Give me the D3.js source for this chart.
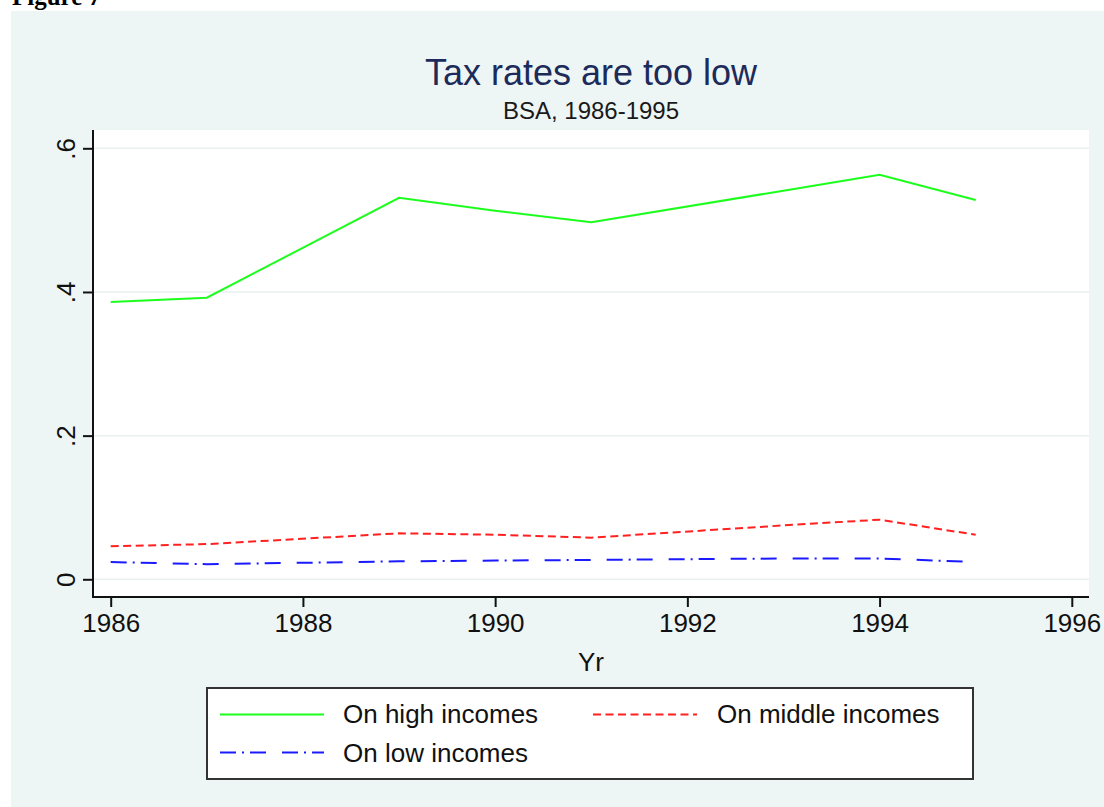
<!DOCTYPE html>
<html>
<head>
<meta charset="utf-8">
<script src="https://cdn.jsdelivr.net/npm/d3@7"></script>
<style>
  html, body { margin: 0; padding: 0; background: #ffffff; }
  svg { display: block; }
  text { font-family: "Liberation Sans", Arial, Helvetica, sans-serif; }
</style>
</head>
<body>
<svg id="chart" width="1104" height="807"></svg>
<script>
// ---- data ----
const years = [1986, 1987, 1989, 1990, 1991, 1993, 1994, 1995];
const highIncomes   = [0.386, 0.392, 0.531, 0.513, 0.497, 0.541, 0.563, 0.528];
const middleIncomes = [0.046, 0.049, 0.064, 0.062, 0.058, 0.075, 0.083, 0.062];
const lowIncomes    = [0.024, 0.021, 0.025, 0.026, 0.027, 0.029, 0.029, 0.024];
const seriesNames = ["On high incomes", "On middle incomes", "On low incomes"];
const yTickValues = [0, 0.2, 0.4, 0.6];
const yTickLabels = ["0", ".2", ".4", ".6"];
const xTickValues = [1986, 1988, 1990, 1992, 1994, 1996];
const titleText = "Tax rates are too low";
const subtitleText = "BSA, 1986-1995";
const xAxisTitle = "Yr";
const figureLabel = "Figure 7";

// ---- layout ----
const svg = d3.select("#chart");
const plot = { left: 93, right: 1089, top: 130, bottom: 597 };

const x = d3.scaleLinear().domain([1986, 1996]).range([110.7, 1071.8]);
const y = d3.scaleLinear().domain([0, 0.6]).range([579.3, 148.3]);

// figure caption (top cut off, as in the source document)
svg.append("text")
  .attr("x", 12).attr("y", 5)
  .style("font-family", "'Liberation Serif', 'Times New Roman', serif")
  .style("font-weight", "bold")
  .style("font-size", "25px")
  .attr("fill", "#000")
  .text(figureLabel);

// outer panel
svg.append("rect")
  .attr("x", 11).attr("y", 11).attr("width", 1093).attr("height", 796)
  .attr("fill", "#eef6f5");

// plot region
svg.append("rect")
  .attr("x", plot.left).attr("y", plot.top)
  .attr("width", plot.right - plot.left).attr("height", plot.bottom - plot.top)
  .attr("fill", "#ffffff");

// gridlines
svg.append("g").selectAll("line").data(yTickValues).join("line")
  .attr("x1", plot.left).attr("x2", plot.right)
  .attr("y1", d => y(d)).attr("y2", d => y(d))
  .attr("stroke", "#e9f1f1").attr("stroke-width", 1.5);

// titles
svg.append("text")
  .attr("x", (plot.left + plot.right) / 2).attr("y", 85)
  .attr("text-anchor", "middle")
  .style("font-size", "36px")
  .attr("fill", "#1c2b5a")
  .text(titleText);
svg.append("text")
  .attr("x", (plot.left + plot.right) / 2).attr("y", 119)
  .attr("text-anchor", "middle")
  .style("font-size", "24px")
  .attr("fill", "#1a1a1a")
  .text(subtitleText);

// y axis
const yAxis = d3.axisLeft(y)
  .tickValues(yTickValues)
  .tickFormat((d, i) => yTickLabels[i])
  .tickSize(10)
  .tickPadding(0);
const gy = svg.append("g").attr("transform", `translate(${plot.left},0)`).call(yAxis);
gy.select(".domain").remove();
gy.selectAll(".tick line").attr("stroke", "#111").attr("stroke-width", 2);
gy.selectAll(".tick text")
  .attr("x", 0).attr("dy", 0)
  .attr("text-anchor", "middle")
  .attr("transform", "translate(-18,0) rotate(-90)")
  .style("font-size", "26px")
  .attr("fill", "#111");
svg.append("line")
  .attr("x1", plot.left).attr("x2", plot.left)
  .attr("y1", plot.top).attr("y2", plot.bottom + 1)
  .attr("stroke", "#111").attr("stroke-width", 2);

// x axis
const xAxis = d3.axisBottom(x)
  .tickValues(xTickValues)
  .tickFormat(d3.format("d"))
  .tickSize(10)
  .tickPadding(6);
const gx = svg.append("g").attr("transform", `translate(0,${plot.bottom})`).call(xAxis);
gx.select(".domain").remove();
gx.selectAll(".tick line").attr("stroke", "#111").attr("stroke-width", 2);
gx.selectAll(".tick text")
  .attr("dy", 0).attr("y", 34.5)
  .style("font-size", "26px")
  .attr("fill", "#111");
svg.append("line")
  .attr("x1", plot.left - 1).attr("x2", plot.right)
  .attr("y1", plot.bottom).attr("y2", plot.bottom)
  .attr("stroke", "#111").attr("stroke-width", 2);

svg.append("text")
  .attr("x", (plot.left + plot.right) / 2).attr("y", 671)
  .attr("text-anchor", "middle")
  .style("font-size", "26px")
  .attr("fill", "#111")
  .text(xAxisTitle);

// series
const styles = [
  { color: "#1cff1c", dash: null },
  { color: "#ff2020", dash: "8,4.5" },
  { color: "#1a1aff", dash: "16,6,2,6,16,16" }
];
const seriesValues = [highIncomes, middleIncomes, lowIncomes];
const line = d3.line().x(d => x(d.year)).y(d => y(d.value));

seriesValues.forEach((vals, i) => {
  const pts = years.map((yr, j) => ({ year: yr, value: vals[j] }));
  svg.append("path")
    .datum(pts)
    .attr("d", line)
    .attr("fill", "none")
    .attr("stroke", styles[i].color)
    .attr("stroke-width", 2)
    .attr("stroke-dasharray", styles[i].dash);
});

// legend
const legend = svg.append("g");
legend.append("rect")
  .attr("x", 207).attr("y", 688).attr("width", 766).attr("height", 91)
  .attr("fill", "#ffffff").attr("stroke", "#333").attr("stroke-width", 2);

const legendItems = [
  { sx: 220, tx: 343, ly: 714.5, ty: 722.5 },
  { sx: 593, tx: 717, ly: 714.5, ty: 722.5 },
  { sx: 220, tx: 343, ly: 752.5, ty: 761.5 }
];
legendItems.forEach((p, i) => {
  legend.append("line")
    .attr("x1", p.sx).attr("x2", p.sx + 104)
    .attr("y1", p.ly).attr("y2", p.ly)
    .attr("stroke", styles[i].color)
    .attr("stroke-width", 2)
    .attr("stroke-dasharray", styles[i].dash);
  legend.append("text")
    .attr("x", p.tx).attr("y", p.ty)
    .style("font-size", "26px")
    .attr("fill", "#111")
    .text(seriesNames[i]);
});
</script>
</body>
</html>
